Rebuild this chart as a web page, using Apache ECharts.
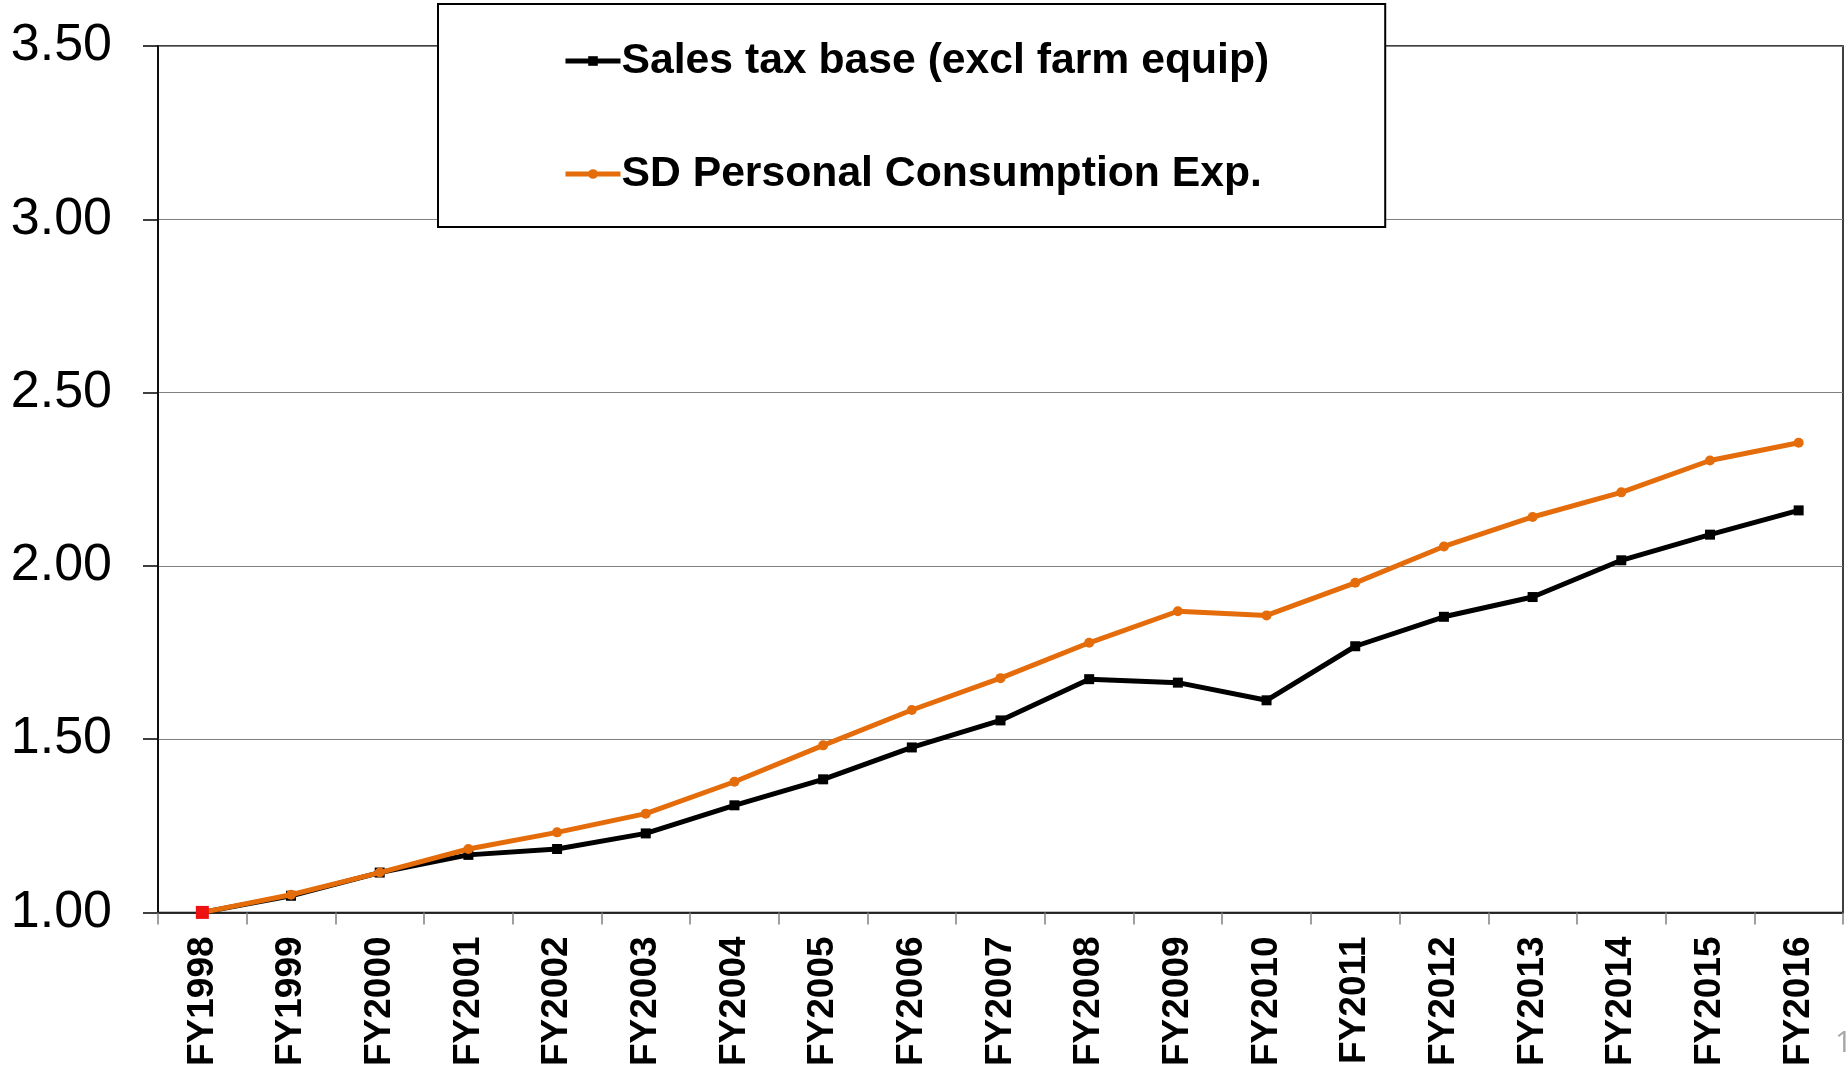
<!DOCTYPE html>
<html>
<head>
<meta charset="utf-8">
<style>html,body{margin:0;padding:0;background:#fff;}#c{width:1846px;height:1069px;}</style>
<script src="https://cdn.jsdelivr.net/npm/echarts@6/dist/echarts.min.js"></script>
</head>
<body>
<div id="c"></div>
<script>
const categories = ['FY1998','FY1999','FY2000','FY2001','FY2002','FY2003','FY2004','FY2005','FY2006','FY2007','FY2008','FY2009','FY2010','FY2011','FY2012','FY2013','FY2014','FY2015','FY2016'];
const salesTaxBase = [1.00,1.048,1.115,1.166,1.183,1.228,1.309,1.384,1.476,1.554,1.673,1.663,1.612,1.768,1.853,1.910,2.016,2.090,2.160];
const sdPCE = [1.00,1.051,1.115,1.183,1.231,1.285,1.377,1.482,1.584,1.676,1.778,1.869,1.857,1.951,2.056,2.141,2.212,2.304,2.355];
const seriesNames = ['Sales tax base (excl farm equip)','SD Personal Consumption Exp.'];
const yMin = 1.0, yMax = 3.5, yStep = 0.5;

const FONT = "'Liberation Sans', Arial, sans-serif";
const chart = echarts.init(document.getElementById('c'));
const pceData = sdPCE.map((v, i) => i === 0 ? {
  value: v, symbol: 'rect', symbolSize: 13,
  itemStyle: {color: '#ee1111', borderColor: '#ee1111', borderWidth: 0}
} : v);
chart.setOption({
  animation: false,
  backgroundColor: '#fff',
  grid: {left: 158, right: 3, top: 46, bottom: 156, show: true, borderColor: '#000', borderWidth: 1.5, backgroundColor: 'transparent'},
  legend: {
    orient: 'vertical', left: 438, top: 4,
    padding: [32, 116, 28, 125], itemGap: 63,
    itemWidth: 55, itemHeight: 12,
    backgroundColor: '#fff', borderColor: '#000', borderWidth: 2,
    textStyle: {fontFamily: FONT, fontSize: 42.7, fontWeight: 'bold', color: '#000', lineHeight: 50, padding: [0,0,0,-4]},
    data: [
      {name: seriesNames[0], lineStyle: {width: 5, color: '#000'}},
      {name: seriesNames[1], lineStyle: {width: 5, color: '#e46c0a'}}
    ]
  },
  xAxis: {
    type: 'category', data: categories, boundaryGap: true,
    axisLine: {lineStyle: {color: '#000', width: 1.5}},
    axisTick: {show: true, length: 12, inside: false, alignWithLabel: false, lineStyle: {color: '#808080', width: 1.5}},
    axisLabel: {rotate: 90, margin: 24, fontFamily: FONT, fontSize: 37, fontWeight: 'bold', color: '#000', interval: 0},
    splitLine: {show: false}
  },
  yAxis: {
    type: 'value', min: yMin, max: yMax, interval: yStep,
    axisLine: {show: true, lineStyle: {color: '#000', width: 1.5}},
    axisTick: {show: true, length: 15, lineStyle: {color: '#000', width: 1.5}},
    axisLabel: {margin: 46, fontFamily: FONT, fontSize: 52, color: '#000', formatter: v => v.toFixed(2)},
    splitLine: {show: true, lineStyle: {color: '#808080', width: 1.2}}
  },
  series: [
    {name: seriesNames[0], type: 'line', data: salesTaxBase, symbol: 'rect', symbolSize: 10,
     lineStyle: {color: '#000', width: 5}, itemStyle: {color: '#000'}, z: 2},
    {name: seriesNames[1], type: 'line', data: pceData, symbol: 'circle', symbolSize: 10,
     lineStyle: {color: '#e46c0a', width: 5}, itemStyle: {color: '#e46c0a'}, z: 3}
  ],
  graphic: [{type: 'text', left: 1835, top: 1028, style: {text: '1', fontFamily: "'Open Sans', sans-serif", fontSize: 30, fill: '#a6a6a6'}}]
});
</script>
</body>
</html>
